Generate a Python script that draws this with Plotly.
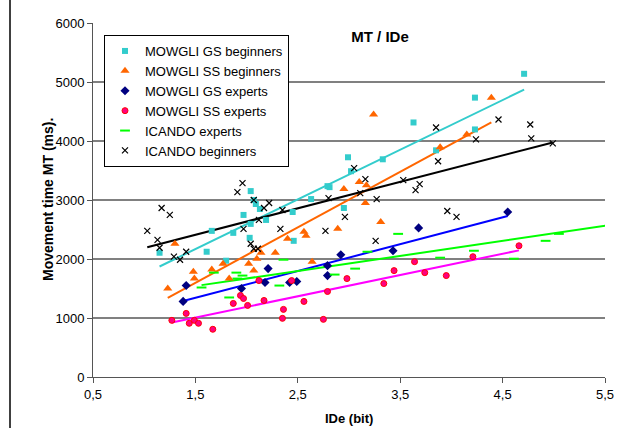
import numpy as np
import plotly.graph_objects as go

# ---- data ----
cyan_x = [1.15, 1.61, 1.80, 1.66, 1.87, 1.97, 2.04, 2.07, 2.09, 2.13, 2.19, 2.04, 2.03, 2.45, 2.46,
          2.63, 2.79, 2.81, 2.95, 3.02, 2.99, 3.33, 3.63, 4.23, 4.71, 4.23, 3.85]
cyan_y = [2106, 2123, 1971, 2477, 2443, 2747, 3151, 3000, 2932, 2848, 2662, 2595, 2359, 2797, 2308,
          3016, 3235, 3218, 2864, 3488, 3724, 3690, 4314, 4735, 5139, 4196, 3842]

orange_x = [1.23, 1.30, 1.48, 1.49, 1.66, 1.77, 1.83, 2.02, 2.07, 2.10, 2.14, 2.28, 2.40, 2.56, 2.58,
            2.89, 2.64, 2.95, 3.10, 3.16, 3.17, 3.31, 3.24, 3.89, 4.15, 4.39]
orange_y = [1500, 2258, 1786, 1668, 1820, 1921, 1668, 1921, 1803, 2005, 2106, 2106, 2342, 2460, 2393,
            2511, 1955, 3185, 3303, 2949, 3252, 2629, 4448, 3892, 4111, 4735]

navy_x = [1.38, 1.41, 1.95, 2.18, 2.21, 2.42, 2.49, 2.79, 2.79, 2.92, 3.43, 3.68, 4.55]
navy_y = [1281, 1550, 1500, 1601, 1837, 1601, 1618, 1719, 1887, 2072, 2140, 2527, 2797]

pink_x = [1.27, 1.41, 1.44, 1.49, 1.53, 1.67, 1.87, 1.94, 1.97, 2.01, 2.12, 2.17, 2.36, 2.35, 2.44,
          2.56, 2.75, 2.79, 2.98, 3.34, 3.44, 3.64, 3.74, 3.95, 4.21, 4.66]
pink_y = [960, 1078, 910, 960, 910, 809, 1247, 1382, 1331, 1213, 1634, 1297, 1146, 994, 1634,
          1281, 977, 1449, 1668, 1584, 1803, 1955, 1769, 1719, 2039, 2224]

# the last ICANDO experts value lies beyond the 5.5 axis limit (its trend line runs to the edge)
green_x = [1.56, 1.68, 1.83, 1.90, 1.91, 1.96, 2.32, 2.36, 2.86, 3.06, 3.18, 3.48, 3.89, 4.22, 4.61,
           4.92, 5.05, 5.80]
green_y = [1517, 1769, 1348, 1769, 1668, 1719, 1550, 1988, 1736, 1837, 2123, 2426, 2022, 2140, 2005,
           2308, 2426, 2950]

black_x = [1.03, 1.13, 1.15, 1.17, 1.25, 1.29, 1.35, 1.41, 1.91, 1.96, 1.97, 2.04, 2.07, 2.11, 2.07,
           2.17, 2.22, 2.12, 2.35, 2.33, 2.77, 2.80, 2.96, 3.05, 3.16, 3.11, 3.27, 3.26, 3.53, 3.65,
           3.69, 3.85, 3.87, 3.96, 4.05, 4.24, 4.46, 4.77, 4.78, 4.99]
black_y = [2477, 2325, 2190, 2865, 2747, 2039, 1988, 2123, 3134, 3286, 2511, 2258, 2174, 2174, 3000,
           2865, 2949, 2662, 2831, 2511, 2477, 3033, 2713, 3539, 3353, 3117, 3016, 2308, 3336, 3168,
           3269, 4229, 3657, 2814, 2713, 4027, 4364, 4280, 4044, 3960]

x_ticks = [0.5, 1.5, 2.5, 3.5, 4.5, 5.5]
y_ticks = [0, 1000, 2000, 3000, 4000, 5000, 6000]

FONT = "Liberation Sans, Arial, sans-serif"

series = [
    ("MOWGLI GS beginners", cyan_x, cyan_y, dict(symbol="square", size=6, color="#33CCCC"), "#33CCCC"),
    ("MOWGLI SS beginners", orange_x, orange_y, dict(symbol="triangle-up", size=8, color="#FF6600"), "#FF6600"),
    ("MOWGLI GS experts", navy_x, navy_y, dict(symbol="diamond", size=7, color="#000080"), "#0000FF"),
    ("MOWGLI SS experts", pink_x, pink_y, dict(symbol="circle", size=6, color="#FF0080",
                                               line=dict(color="#FF0000", width=1)), "#FF00FF"),
    ("ICANDO experts", green_x, green_y, dict(symbol="line-ew", size=7, color="#00FF00",
                                             line=dict(color="#00FF00", width=2)), "#00FF00"),
    ("ICANDO beginners", black_x, black_y, dict(symbol="x-thin", size=6, color="black",
                                               line=dict(color="black", width=1.2)), "black"),
]

fig = go.Figure()
# linear trend lines first (under markers)
for name, xs, ys, mk, lc in series:
    a, b = np.polyfit(xs, ys, 1)
    x0, x1 = min(xs), max(xs)
    fig.add_trace(go.Scatter(x=[x0, x1], y=[a * x0 + b, a * x1 + b], mode="lines",
                             line=dict(color=lc, width=2), showlegend=False, hoverinfo="skip"))
for name, xs, ys, mk, lc in series:
    fig.add_trace(go.Scatter(x=xs, y=ys, mode="markers", name=name, marker=mk, cliponaxis=True))

fig.update_layout(
    width=641, height=428,
    margin=dict(l=93, r=36, t=23, b=51),
    paper_bgcolor="white", plot_bgcolor="white",
    separators=", ",
    font=dict(family=FONT, size=13, color="black"),
    title=dict(text="<b>MT / IDe</b>", x=(380 - 93) / 512, xref="paper", xanchor="center",
               y=1 - 37 / 428, yref="container", yanchor="middle",
               font=dict(family=FONT, size=15, color="black")),
    showlegend=True,
    legend=dict(x=(104 - 93) / 512, y=(377 - 35) / 354, xanchor="left", yanchor="top",
                bgcolor="white", bordercolor="black", borderwidth=1,
                font=dict(family=FONT, size=13, color="black"), itemsizing="trace",
                tracegroupgap=0),
)
fig.update_xaxes(range=[0.5, 5.5], tickvals=x_ticks, tickformat=".1f",
                 showline=True, linecolor="#555", linewidth=1, ticks="outside", ticklen=5,
                 tickcolor="#555", showgrid=False, zeroline=False,
                 tickfont=dict(family=FONT, size=13))
fig.update_yaxes(range=[0, 6000], tickvals=y_ticks, showline=True, linecolor="#555", linewidth=1,
                 ticks="outside", ticklen=5, tickcolor="#555",
                 showgrid=True, gridcolor="#808080", gridwidth=1.5, zeroline=False,
                 tickfont=dict(family=FONT, size=13))
fig.add_annotation(text="<b>Movement time MT (ms).</b>", xref="paper", yref="paper",
                   x=(38 - 93) / 512, y=0.5, textangle=-90, showarrow=False,
                   font=dict(family=FONT, size=14, color="black"))
fig.add_annotation(text="<b>IDe (bit)</b>", xref="paper", yref="paper",
                   x=0.5, y=(377 - 419) / 354, showarrow=False, yanchor="middle",
                   font=dict(family=FONT, size=13, color="black"))
fig.add_shape(type="line", xref="paper", yref="paper", x0=(10 - 93) / 512, x1=(10 - 93) / 512,
              y0=-51 / 354 - 0.01, y1=1 + 23 / 354 + 0.01, line=dict(color="black", width=1.5))

fig.write_html("out.html")
